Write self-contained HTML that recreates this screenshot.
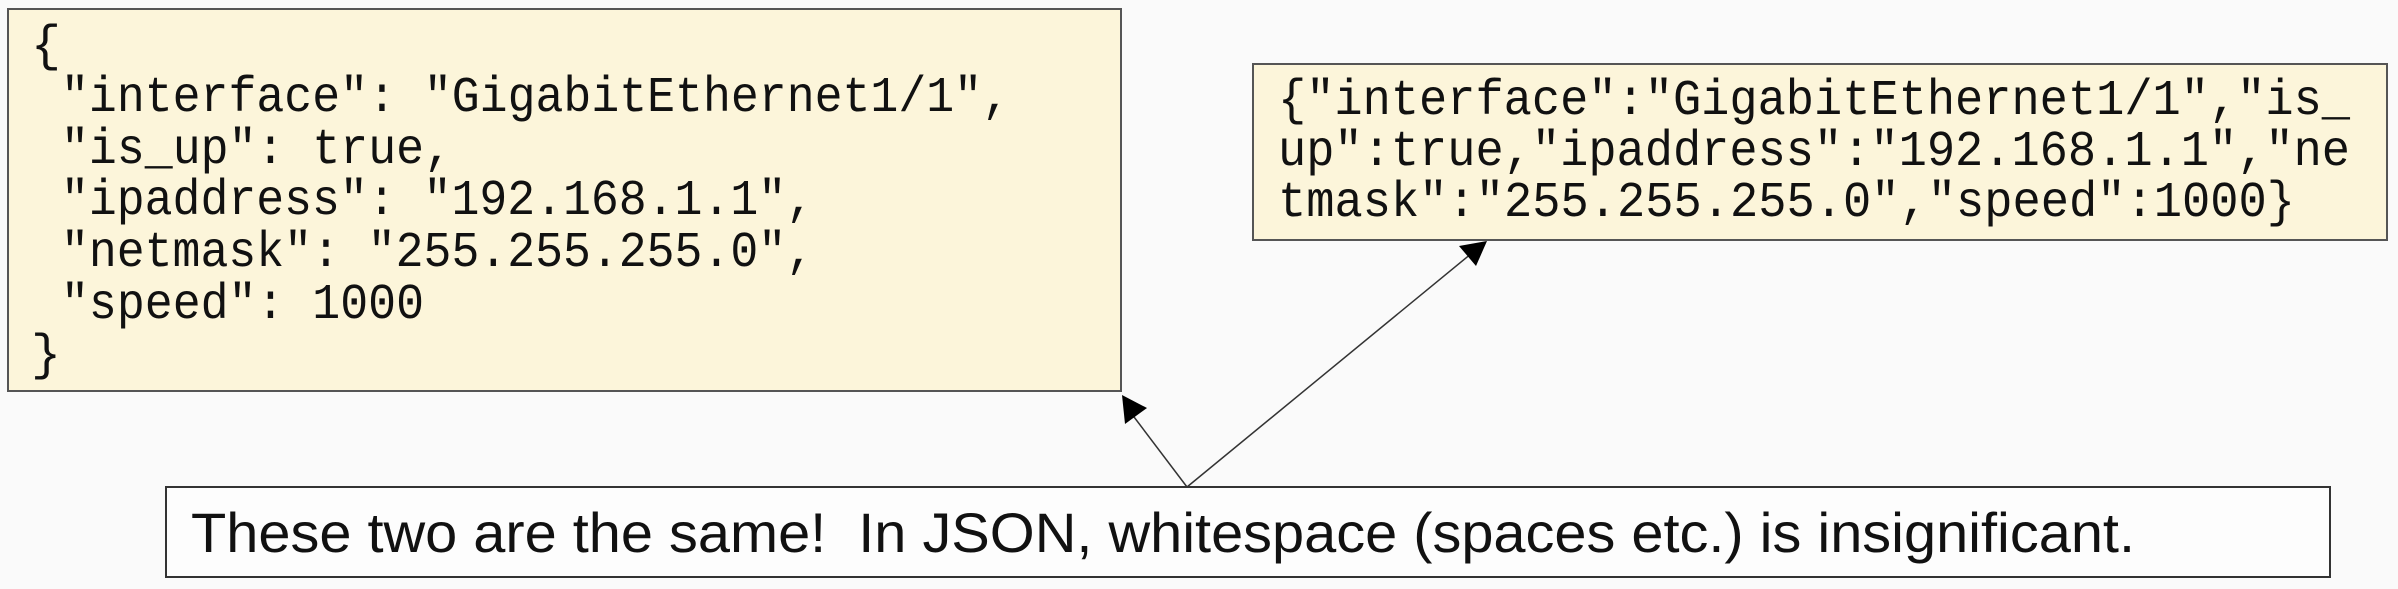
<!DOCTYPE html>
<html><head><meta charset="utf-8"><style>
html,body{margin:0;padding:0;background:#fafafa;}
svg{display:block}
.m{font-family:"Liberation Mono",monospace;font-size:50px;fill:#111}
.s{font-family:"Liberation Sans",sans-serif;font-size:56px;fill:#111}
</style></head><body>
<svg width="2398" height="589" viewBox="0 0 2398 589" xmlns="http://www.w3.org/2000/svg">
<rect width="2398" height="589" fill="#fafafa"/>
<rect x="8" y="9" width="1113" height="382" fill="#fcf5da" stroke="#555" stroke-width="2"/>
<text class="m" x="31" y="60">{</text>
<text class="m" x="61" y="111" textLength="949" lengthAdjust="spacingAndGlyphs">"interface": "GigabitEthernet1/1",</text>
<text class="m" x="61" y="163" textLength="391" lengthAdjust="spacingAndGlyphs">"is_up": true,</text>
<text class="m" x="61" y="214" textLength="753" lengthAdjust="spacingAndGlyphs">"ipaddress": "192.168.1.1",</text>
<text class="m" x="61" y="266" textLength="753" lengthAdjust="spacingAndGlyphs">"netmask": "255.255.255.0",</text>
<text class="m" x="61" y="318" textLength="363" lengthAdjust="spacingAndGlyphs">"speed": 1000</text>
<text class="m" x="31" y="369">}</text>

<rect x="1253" y="64" width="1134" height="176" fill="#fcf5da" stroke="#555" stroke-width="2"/>
<text class="m" x="1278" y="114" textLength="1072" lengthAdjust="spacingAndGlyphs">{"interface":"GigabitEthernet1/1","is_</text>
<text class="m" x="1278" y="165" textLength="1072" lengthAdjust="spacingAndGlyphs">up":true,"ipaddress":"192.168.1.1","ne</text>
<text class="m" x="1278" y="216" textLength="1017" lengthAdjust="spacingAndGlyphs">tmask":"255.255.255.0","speed":1000}</text>

<rect x="166" y="487" width="2164" height="90" fill="#fdfdfd" stroke="#333" stroke-width="2"/>
<text class="s" x="191" y="552" textLength="1944" lengthAdjust="spacingAndGlyphs" xml:space="preserve">These two are the same!  In JSON, whitespace (spaces etc.) is insignificant.</text>

<line x1="1187" y1="487" x2="1131" y2="413" stroke="#333" stroke-width="1.5"/>
<polygon points="1122,395 1147,408 1125,424" fill="#000"/>
<line x1="1187" y1="487" x2="1472" y2="253" stroke="#333" stroke-width="1.5"/>
<polygon points="1487,241 1476,266 1459,246" fill="#000"/>
</svg>
</body></html>
